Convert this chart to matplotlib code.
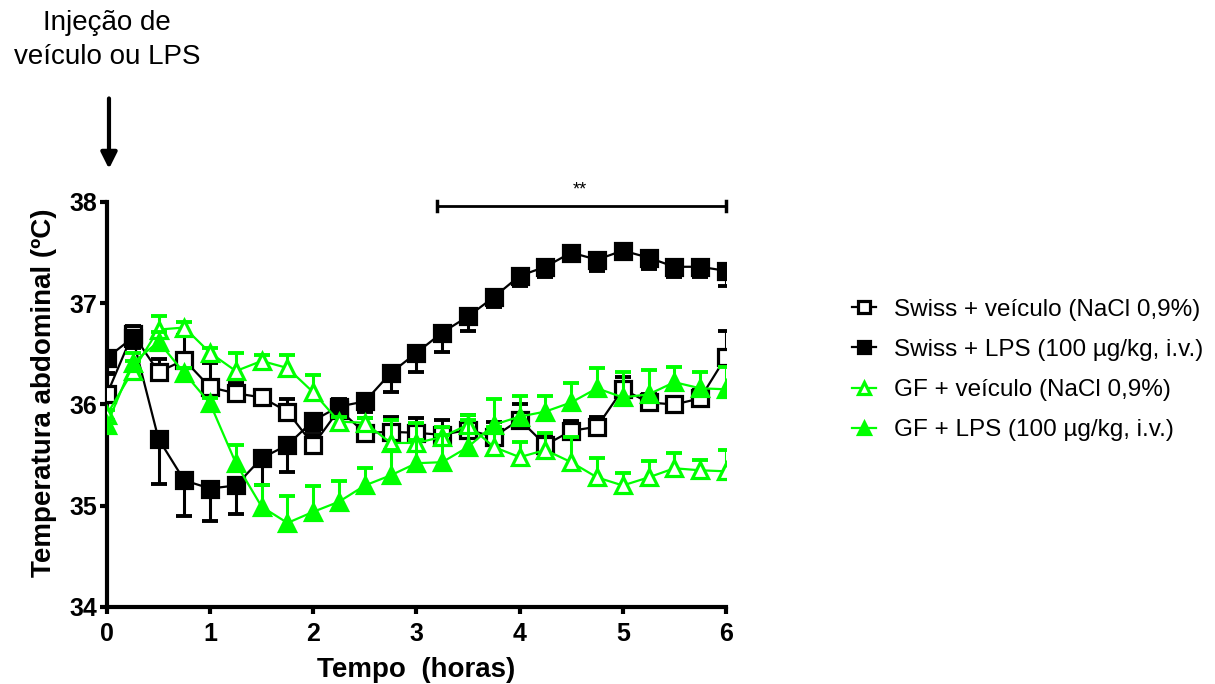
import matplotlib
matplotlib.use('Agg')
import matplotlib.pyplot as plt
import numpy as np

plt.rcParams['font.family'] = ['Liberation Sans', 'DejaVu Sans']

# tempo (horas)
tempo = np.arange(25) * 0.25

swiss_veic = [36.10, 36.70, 36.32, 36.44, 36.17, 36.11, 36.07, 35.93, 35.60, 35.95, 35.72, 35.73, 35.72,
              35.70, 35.75, 35.68, 35.85, 35.60, 35.74, 35.78, 36.15, 36.02, 36.00, 36.06, 36.47]
swiss_veic_err = [0.20, 0.08, 0.13, 0.25, 0.24, 0.10, 0.05, 0.12, 0.10, 0.10, 0.15, 0.15, 0.15,
                  0.15, 0.15, 0.15, 0.15, 0.10, 0.10, 0.10, 0.12, 0.08, 0.05, 0.08, 0.26]

swiss_lps = [36.46, 36.66, 35.66, 35.25, 35.17, 35.20, 35.47, 35.60, 35.84, 35.98, 36.03, 36.31, 36.51,
             36.71, 36.87, 37.06, 37.27, 37.36, 37.50, 37.43, 37.52, 37.45, 37.36, 37.36, 37.32]
swiss_lps_err = [0.15, 0.10, 0.45, 0.35, 0.32, 0.28, 0.27, 0.27, 0.10, 0.05, 0.10, 0.19, 0.19,
                 0.19, 0.14, 0.10, 0.10, 0.10, 0.05, 0.11, 0.05, 0.11, 0.10, 0.10, 0.15]

gf_veic = [35.90, 36.33, 36.74, 36.76, 36.51, 36.33, 36.43, 36.36, 36.12, 35.83, 35.82, 35.62, 35.62,
           35.68, 35.80, 35.58, 35.48, 35.55, 35.43, 35.28, 35.20, 35.28, 35.37, 35.35, 35.34]
gf_veic_err = [0.05, 0.10, 0.13, 0.05, 0.05, 0.18, 0.06, 0.13, 0.17, 0.05, 0.05, 0.23, 0.20,
               0.10, 0.10, 0.20, 0.15, 0.17, 0.25, 0.19, 0.12, 0.16, 0.15, 0.10, 0.21]

gf_lps = [35.80, 36.41, 36.62, 36.31, 36.01, 35.42, 34.99, 34.83, 34.94, 35.04, 35.20, 35.30, 35.42,
          35.43, 35.58, 35.80, 35.88, 35.93, 36.02, 36.16, 36.07, 36.10, 36.22, 36.16, 36.15]
gf_lps_err = [0.05, 0.10, 0.10, 0.05, 0.05, 0.18, 0.21, 0.27, 0.25, 0.20, 0.17, 0.25, 0.23,
              0.27, 0.27, 0.25, 0.20, 0.15, 0.19, 0.20, 0.25, 0.24, 0.15, 0.16, 0.22]

labels = ['Swiss + veículo (NaCl 0,9%)', 'Swiss + LPS (100 µg/kg, i.v.)',
          'GF + veículo (NaCl 0,9%)', 'GF + LPS (100 µg/kg, i.v.)']

verde = '#00ff00'

fig = plt.figure(figsize=(12.15, 6.84), dpi=100)
ax = fig.add_axes([0.088, 0.1126, 0.5095, 0.5921])


def serie(y, err, sinal, cor, marker, face, z):
    y = np.array(y)
    fim = y + sinal * np.array(err)
    # barra de erro de um lado so (estilo prism)
    ax.vlines(tempo, y, fim, color=cor, lw=2.2, zorder=z)
    ax.plot(tempo, fim, ls='none', marker='_', ms=11.5, mew=2.8, color=cor, zorder=z)
    h, = ax.plot(tempo, y, '-', color=cor, lw=1.6, marker=marker, ms=11.5,
                 mfc=face, mec=cor, mew=2.3, zorder=z + 0.5)
    return h


h1 = serie(swiss_veic, swiss_veic_err, 1, 'black', 's', 'white', 3)
h2 = serie(swiss_lps, swiss_lps_err, -1, 'black', 's', 'black', 4)
h3 = serie(gf_veic, gf_veic_err, 1, verde, '^', 'white', 5)
h4 = serie(gf_lps, gf_lps_err, 1, verde, '^', verde, 6)

ax.set_xlim(0, 6)
ax.set_ylim(34, 38)
ax.set_xticks(range(0, 7))
ax.set_yticks([34, 35, 36, 37, 38])
for s in ['top', 'right']:
    ax.spines[s].set_visible(False)
for s in ['left', 'bottom']:
    ax.spines[s].set_linewidth(3)
ax.tick_params(direction='out', length=5, width=3, labelsize=18, pad=2)
ax.tick_params(axis='x', pad=6)
for t in ax.get_xticklabels() + ax.get_yticklabels():
    t.set_fontweight('bold')
ax.set_xlabel('Tempo  (horas)', fontsize=20, fontweight='bold', labelpad=8)
ax.set_ylabel('Temperatura abdominal (ºC)', fontsize=20, fontweight='bold')
ax.yaxis.set_label_coords(-0.08, 0.53)

# barra de significancia
ax.plot([3.2, 6], [37.96, 37.96], color='black', lw=2, clip_on=False)
ax.plot([3.2, 3.2], [37.91, 38.01], color='black', lw=2.5, clip_on=False)
ax.plot([6, 6], [37.91, 38.01], color='black', lw=2.5, clip_on=False)
ax.text(4.58, 38.12, '**', ha='center', va='center', fontsize=13)

# seta da injecao
ax.annotate('', xy=(0.02, 38.3), xytext=(0.02, 39.05),
            arrowprops=dict(arrowstyle='-|>', lw=3, color='black', mutation_scale=24),
            annotation_clip=False)
ax.text(0.0, 39.6, 'Injeção de\nveículo ou LPS', ha='center', va='center', fontsize=20,
        linespacing=1.4)

fig.legend([h1, h2, h3, h4], labels, loc='center left', bbox_to_anchor=(0.683, 0.459),
           frameon=False, fontsize=17.5, handlelength=1.0, handletextpad=0.75,
           labelspacing=0.75, markerscale=0.75)

plt.savefig('out.png', dpi=100)
